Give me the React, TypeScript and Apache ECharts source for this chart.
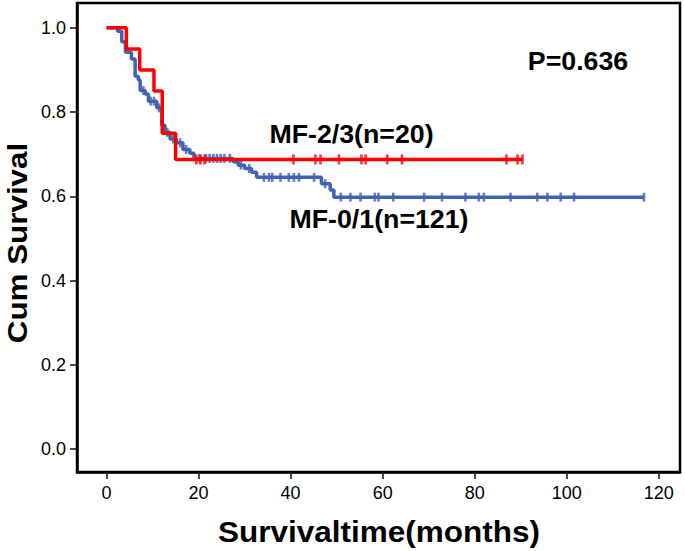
import React, { useEffect, useRef } from "react";
import * as echarts from "echarts";

// Kaplan-Meier step data (months, cumulative survival)
const redTimes = [0, 4.3, 7.2, 10.3, 12.1, 15.0, 90.4];
const redSurv = [1.0, 0.95, 0.9, 0.85, 0.75, 0.6875, 0.6875];
const redCensor = [19.5, 20.4, 21.3, 40.6, 45.4, 46.5, 50.5, 55.4, 56.3, 61.0, 64.2, 86.9, 89.3, 90.4];

const blueTimes = [0, 2.4, 3.3, 4.1, 5.4, 6.2, 6.9, 7.3, 8.4, 9.1, 10.9, 12.0, 12.7, 13.8, 15.2, 16.6, 18.1, 19.0, 27.5, 28.6, 30.0, 31.5, 32.6, 46.7, 48.6, 49.4, 116.8];
const blueSurv = [1.0, 0.992, 0.967, 0.942, 0.926, 0.885, 0.876, 0.851, 0.843, 0.826, 0.81, 0.769, 0.752, 0.736, 0.727, 0.711, 0.702, 0.69, 0.682, 0.674, 0.666, 0.657, 0.645, 0.63, 0.615, 0.598, 0.598];
const blueCensor = [8.0, 9.6, 10.3, 11.4, 13.2, 14.5, 16.0, 17.3, 20.2, 21.6, 22.4, 23.2, 24.0, 24.8, 25.6, 26.8, 29.2, 31.0, 34.2, 35.3, 36.0, 37.8, 39.6, 40.7, 41.8, 45.1, 47.5, 50.9, 53.0, 55.2, 58.3, 59.1, 62.3, 69.0, 72.9, 78.0, 80.9, 82.0, 87.8, 93.6, 95.8, 98.7, 101.6, 116.8];

const xTicks = [0, 20, 40, 60, 80, 100, 120];
const yTicks = [0, 0.2, 0.4, 0.6, 0.8, 1.0];

const groupLabels = { red: "MF-2/3(n=20)", blue: "MF-0/1(n=121)" };
const pText = "P=0.636";
const xTitle = "Survivaltime(months)";
const yTitle = "Cum Survival";

const RED = "#FF0000";
const BLUE = "#4262B4";
const FONT = "'Liberation Sans', Arial, sans-serif";

function survAt(times: number[], surv: number[], t: number) {
  let v = surv[0];
  for (let i = 0; i < times.length; i++) {
    if (times[i] <= t) v = surv[i];
  }
  return v;
}

export default function App() {
  const ref = useRef<HTMLDivElement>(null);
  useEffect(() => {
    document.body.style.margin = "0";
    const chart = echarts.init(ref.current!, null, { renderer: "svg" });
    const redLine = redTimes.map((t, i) => [t, redSurv[i]]);
    const blueLine = blueTimes.map((t, i) => [t, blueSurv[i]]);
    const redC = redCensor.map((t) => [t, survAt(redTimes, redSurv, t)]);
    const blueC = blueCensor.map((t) => [t, survAt(blueTimes, blueSurv, t)]);
    const txt = (text: string, x: number, y: number, size: number, sx: number, rot = 0) => ({
      type: "text",
      x,
      y,
      rotation: rot,
      scaleX: sx,
      style: {
        text,
        fontSize: size,
        fontWeight: "bold",
        fontFamily: FONT,
        fill: "#000",
        align: "center",
        verticalAlign: "middle",
      },
    });
    chart.setOption({
      animation: false,
      backgroundColor: "#fff",
      grid: {
        left: 77,
        right: 5,
        top: 3,
        bottom: 79,
        show: true,
        borderColor: "#000",
        borderWidth: 2.5,
        backgroundColor: "transparent",
      },
      xAxis: {
        type: "value",
        min: -6.43,
        max: 124.63,
        splitLine: { show: false },
        axisLine: { show: true, onZero: false, lineStyle: { color: "#000", width: 2.5 } },
        axisTick: {
          show: true,
          customValues: xTicks,
          length: 7,
          lineStyle: { color: "#111", width: 1.5 },
        },
        axisLabel: {
          customValues: xTicks,
          margin: 12,
          fontSize: 18,
          color: "#000",
          fontFamily: FONT,
        },
      },
      yAxis: {
        type: "value",
        min: -0.0546,
        max: 1.059,
        splitLine: { show: false },
        axisLine: { show: true, onZero: false, lineStyle: { color: "#000", width: 2.5 } },
        axisTick: {
          show: true,
          customValues: yTicks,
          length: 7,
          lineStyle: { color: "#111", width: 1.5 },
        },
        axisLabel: {
          customValues: yTicks,
          margin: 11,
          fontSize: 18,
          color: "#000",
          fontFamily: FONT,
          formatter: (v: number) => v.toFixed(1),
        },
      },
      series: [
        {
          type: "line",
          step: "end",
          data: blueLine,
          symbol: "none",
          lineStyle: { color: BLUE, width: 3.5 },
          z: 2,
        },
        {
          type: "scatter",
          data: blueC,
          symbol: "rect",
          symbolSize: [2.6, 9],
          itemStyle: { color: BLUE },
          z: 3,
        },
        {
          type: "line",
          step: "end",
          data: redLine,
          symbol: "none",
          lineStyle: { color: RED, width: 3.5 },
          z: 4,
        },
        {
          type: "scatter",
          data: redC,
          symbol: "rect",
          symbolSize: [2.6, 10],
          itemStyle: { color: RED },
          z: 5,
        },
      ],
      graphic: [
        txt(pText, 578, 61, 25, 1.07),
        txt(groupLabels.red, 351.5, 134, 25, 1.07),
        txt(groupLabels.blue, 379, 219, 25, 1.07),
        txt(xTitle, 379, 532, 30, 1.05),
        txt(yTitle, 17, 243, 28, 1.12, Math.PI / 2),
      ],
    });
    return () => chart.dispose();
  }, []);
  return <div ref={ref} style={{ width: 685, height: 551 }} />;
}
